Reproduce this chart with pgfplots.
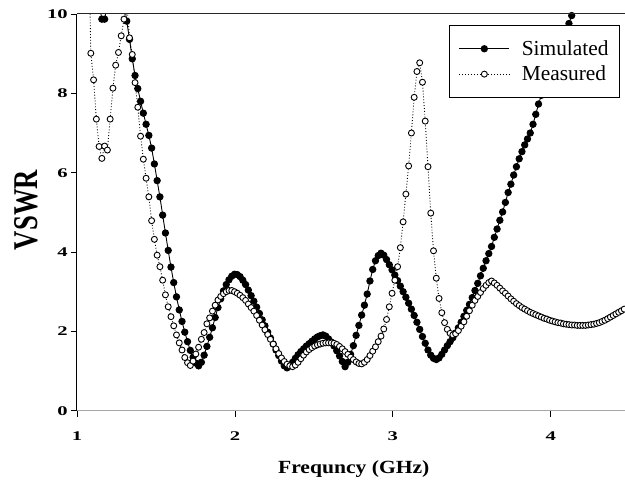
\documentclass[border=0pt]{standalone}
\usepackage{fontspec}
\setmainfont{Liberation Serif}
\usepackage{graphicx}
\usepackage{pgfplots}
\pgfplotsset{compat=1.18}
\newcommand\tl[1]{\scalebox{1.55}[1]{\fontsize{13.3}{15}\selectfont\bfseries #1}}
\begin{document}
\begin{tikzpicture}
\begin{axis}[name=ax, width=548pt, height=396.7pt, scale only axis,
  xmin=1, xmax=4.47, ymin=0, ymax=10,
  axis x line*=bottom, axis y line*=left,
  x axis line style={draw=gray!70, line width=1.2pt},
  y axis line style={draw=black, line width=1pt},
  xtick={1,2,3,4}, xticklabels={\tl{1},\tl{2},\tl{3},\tl{4}},
  ytick={0,2,4,6,8,10}, yticklabels={\tl{0},\tl{2},\tl{4},\tl{6},\tl{8},\tl{10}},
  tick align=outside, major tick length=6pt,
  tick style={black, line width=0.8pt},
  xticklabel style={inner sep=0pt, anchor=north, yshift=-15pt},
  yticklabel style={inner sep=0pt, anchor=east, xshift=-3pt},
  xlabel={\scalebox{1}[0.86]{\fontsize{21.6}{24}\selectfont\bfseries Frequncy (GHz)}},
  xlabel style={at={(axis description cs:0.505,-0.1578)}, anchor=base, inner sep=0pt},
  ylabel={\scalebox{1}[1.3]{\fontsize{26.7}{30}\selectfont\bfseries VSWR}},
  ylabel style={at={(axis description cs:-0.0712,0.506)}, anchor=base, inner sep=0pt},
  legend style={at={(0.991,0.972)}, anchor=north east, draw=black, line width=1pt, fill=white,
    font=\fontsize{21.4}{24}\selectfont, inner xsep=9pt, inner ysep=13pt, row sep=5pt,
    column sep=10pt, cells={anchor=west}},
  legend image code/.code={\draw[mark repeat=2,mark phase=2,#1] plot coordinates {(0pt,0pt) (25pt,0pt) (50pt,0pt)};},
]
\addplot[black, line width=0.9pt, mark=*, mark size=3.2pt, mark options={solid, fill=black}] table {
x y
1.0000 15.0
1.0175 14.4
1.0350 13.8
1.0525 13.1
1.0700 12.4
1.0875 11.7
1.1050 11.1
1.1225 10.6
1.1400 10.25
1.1575 9.87
1.1750 9.87
1.1925 10.25
1.2100 10.7
1.2275 11.0
1.2450 11.1
1.2625 11.0
1.2800 10.8
1.2975 10.35
1.3150 9.82
1.3325 9.36
1.3500 8.87
1.3675 8.45
1.3850 8.12
1.4025 7.80
1.4200 7.50
1.4375 7.22
1.4550 6.94
1.4725 6.62
1.4900 6.22
1.5075 5.80
1.5250 5.39
1.5425 4.93
1.5600 4.48
1.5775 4.04
1.5950 3.62
1.6125 3.23
1.6300 2.87
1.6475 2.54
1.6650 2.25
1.6825 1.98
1.7000 1.74
1.7175 1.52
1.7350 1.35
1.7525 1.20
1.7700 1.13
1.7875 1.22
1.8050 1.40
1.8225 1.62
1.8400 1.85
1.8575 2.09
1.8750 2.35
1.8925 2.60
1.9100 2.82
1.9275 3.02
1.9450 3.18
1.9625 3.30
1.9800 3.39
1.9975 3.44
2.0150 3.43
2.0325 3.38
2.0500 3.29
2.0675 3.18
2.0850 3.04
2.1025 2.90
2.1200 2.76
2.1375 2.61
2.1550 2.45
2.1725 2.29
2.1900 2.14
2.2075 1.98
2.2250 1.83
2.2425 1.68
2.2600 1.53
2.2775 1.39
2.2950 1.25
2.3125 1.13
2.3300 1.08
2.3475 1.13
2.3650 1.22
2.3825 1.32
2.4000 1.41
2.4175 1.49
2.4350 1.56
2.4525 1.63
2.4700 1.69
2.4875 1.75
2.5050 1.81
2.5225 1.86
2.5400 1.89
2.5575 1.91
2.5750 1.88
2.5925 1.81
2.6100 1.73
2.6275 1.63
2.6450 1.51
2.6625 1.38
2.6800 1.24
2.6975 1.11
2.7150 1.22
2.7325 1.42
2.7500 1.64
2.7675 1.90
2.7850 2.15
2.8025 2.41
2.8200 2.66
2.8375 2.94
2.8550 3.27
2.8725 3.56
2.8900 3.78
2.9075 3.91
2.9250 3.97
2.9425 3.92
2.9600 3.81
2.9775 3.68
2.9950 3.55
3.0125 3.42
3.0300 3.28
3.0475 3.14
3.0650 3.00
3.0825 2.86
3.1000 2.71
3.1175 2.56
3.1350 2.40
3.1525 2.23
3.1700 2.05
3.1875 1.87
3.2050 1.70
3.2225 1.53
3.2400 1.40
3.2575 1.32
3.2750 1.29
3.2925 1.33
3.3100 1.42
3.3275 1.53
3.3450 1.64
3.3625 1.74
3.3800 1.84
3.3975 1.96
3.4150 2.09
3.4325 2.23
3.4500 2.38
3.4675 2.53
3.4850 2.68
3.5025 2.85
3.5200 3.03
3.5375 3.21
3.5550 3.40
3.5725 3.59
3.5900 3.78
3.6075 3.96
3.6250 4.14
3.6425 4.37
3.6600 4.58
3.6775 4.80
3.6950 5.01
3.7125 5.25
3.7300 5.50
3.7475 5.71
3.7650 5.94
3.7825 6.15
3.8000 6.35
3.8175 6.53
3.8350 6.70
3.8525 6.85
3.8700 7.00
3.8875 7.22
3.9050 7.47
3.9225 7.73
3.9400 7.95
3.9575 8.15
3.9750 8.35
3.9925 8.55
4.0100 8.74
4.0275 8.92
4.0450 9.10
4.0625 9.27
4.0800 9.44
4.0975 9.60
4.1150 9.76
4.1325 9.96
4.1500 10.2
4.1675 10.4
4.1850 10.6
};
\addlegendentry{Simulated}
\addplot[black, line width=0.9pt, dotted, mark=*, mark size=3pt, mark options={solid, fill=white, draw=black, line width=0.9pt}] table {
x y
1.0525 16.0
1.0700 13.0
1.0875 9.01
1.1050 8.34
1.1225 7.35
1.1400 6.66
1.1575 6.36
1.1750 6.67
1.1925 6.57
1.2100 7.35
1.2275 8.13
1.2450 8.71
1.2625 9.03
1.2800 9.45
1.2975 9.87
1.3150 10.3
1.3325 9.40
1.3500 8.98
1.3675 8.27
1.3850 7.65
1.4025 6.92
1.4200 6.34
1.4375 5.86
1.4550 5.39
1.4725 4.79
1.4900 4.32
1.5075 3.92
1.5250 3.63
1.5425 3.29
1.5600 2.92
1.5775 2.62
1.5950 2.37
1.6125 2.14
1.6300 1.91
1.6475 1.71
1.6650 1.53
1.6825 1.34
1.7000 1.21
1.7175 1.14
1.7350 1.25
1.7525 1.43
1.7700 1.60
1.7875 1.80
1.8050 1.97
1.8225 2.19
1.8400 2.34
1.8575 2.51
1.8750 2.66
1.8925 2.79
1.9100 2.88
1.9275 2.95
1.9450 3.00
1.9625 3.03
1.9800 3.03
1.9975 3.00
2.0150 2.96
2.0325 2.91
2.0500 2.85
2.0675 2.78
2.0850 2.69
2.1025 2.60
2.1200 2.51
2.1375 2.40
2.1550 2.28
2.1725 2.16
2.1900 2.04
2.2075 1.92
2.2250 1.80
2.2425 1.68
2.2600 1.56
2.2775 1.44
2.2950 1.33
2.3125 1.24
2.3300 1.17
2.3475 1.13
2.3650 1.11
2.3825 1.15
2.4000 1.22
2.4175 1.31
2.4350 1.40
2.4525 1.48
2.4700 1.54
2.4875 1.59
2.5050 1.63
2.5225 1.66
2.5400 1.68
2.5575 1.70
2.5750 1.71
2.5925 1.71
2.6100 1.71
2.6275 1.70
2.6450 1.67
2.6625 1.62
2.6800 1.56
2.6975 1.49
2.7150 1.42
2.7325 1.35
2.7500 1.29
2.7675 1.23
2.7850 1.19
2.8025 1.18
2.8200 1.22
2.8375 1.29
2.8550 1.39
2.8725 1.50
2.8900 1.61
2.9075 1.74
2.9250 1.88
2.9425 2.06
2.9600 2.30
2.9775 2.62
2.9950 2.96
3.0125 3.29
3.0300 3.63
3.0475 4.11
3.0650 4.76
3.0825 5.46
3.1000 6.17
3.1175 7.00
3.1350 7.90
3.1525 8.55
3.1700 8.77
3.1875 8.28
3.2050 7.30
3.2225 6.15
3.2400 4.98
3.2575 4.03
3.2750 3.34
3.2925 2.83
3.3100 2.47
3.3275 2.22
3.3450 2.05
3.3625 1.95
3.3800 1.91
3.3975 1.94
3.4150 2.02
3.4325 2.13
3.4500 2.24
3.4675 2.38
3.4850 2.52
3.5025 2.66
3.5200 2.78
3.5375 2.88
3.5550 2.98
3.5725 3.08
3.5900 3.16
3.6075 3.23
3.6250 3.27
3.6425 3.22
3.6600 3.16
3.6775 3.09
3.6950 3.02
3.7125 2.96
3.7300 2.89
3.7475 2.82
3.7650 2.76
3.7825 2.70
3.8000 2.65
3.8175 2.60
3.8350 2.56
3.8525 2.52
3.8700 2.48
3.8875 2.45
3.9050 2.42
3.9225 2.39
3.9400 2.36
3.9575 2.33
3.9750 2.31
3.9925 2.28
4.0100 2.26
4.0275 2.24
4.0450 2.22
4.0625 2.21
4.0800 2.19
4.0975 2.18
4.1150 2.17
4.1325 2.16
4.1500 2.16
4.1675 2.15
4.1850 2.15
4.2025 2.15
4.2200 2.15
4.2375 2.16
4.2550 2.17
4.2725 2.18
4.2900 2.20
4.3075 2.22
4.3250 2.25
4.3425 2.28
4.3600 2.32
4.3775 2.36
4.3950 2.40
4.4125 2.44
4.4300 2.48
4.4475 2.52
4.4650 2.56
4.4825 2.61
4.5000 2.66
};
\addlegendentry{Measured}
\end{axis}
\draw[gray!30!black, line width=1pt] (ax.north west) -- (ax.north east);
\pgfresetboundingbox
\path ([shift={(-77pt,-76.3pt)}]ax.south west) rectangle ([shift={(0pt,14pt)}]ax.north east);
\end{tikzpicture}
\end{document}
